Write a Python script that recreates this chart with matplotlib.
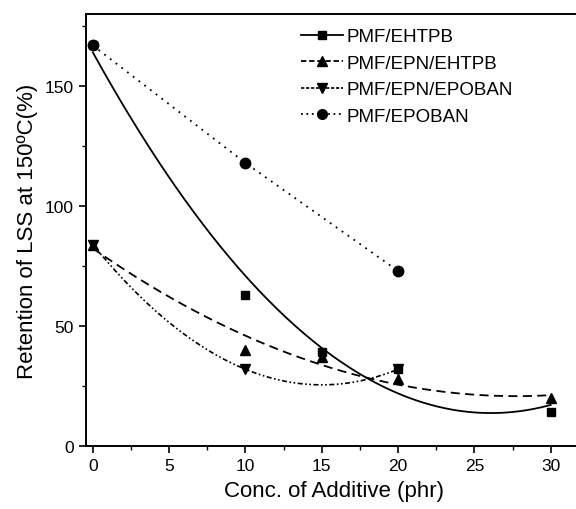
import numpy as np
import matplotlib
matplotlib.use("Agg")
import matplotlib.pyplot as plt
from matplotlib.lines import Line2D

plt.rcParams['font.family'] = ['Liberation Sans', 'DejaVu Sans']

# Retention of lap shear strength at 150 °C vs additive concentration
x_ehtpb = [0, 10, 15, 20, 30]
y_ehtpb = [167, 63, 39, 32, 14]

x_epn_ehtpb = [0, 10, 15, 20, 30]
y_epn_ehtpb = [84, 40, 37, 28, 20]

x_epn_epoban = [0, 10, 20]
y_epn_epoban = [84, 32, 32]

x_epoban = [0, 10, 20]
y_epoban = [167, 118, 73]

labels = ["PMF/EHTPB", "PMF/EPN/EHTPB", "PMF/EPN/EPOBAN", "PMF/EPOBAN"]

fig = plt.figure(figsize=(5.76, 5.10), dpi=100)
ax = fig.add_axes([0.149, 0.1235, 0.86, 0.8465])

def quad_fit(xs, ys):
    c = np.polyfit(xs, ys, 2)
    xx = np.linspace(min(xs), max(xs), 200)
    return xx, np.polyval(c, xx)

ms = 6
# Fitted trend curves
xx, yy = quad_fit(x_ehtpb, y_ehtpb)
ax.plot(xx, yy, color='black', lw=1.3, ls='-')
xx, yy = quad_fit(x_epn_ehtpb, y_epn_ehtpb)
ax.plot(xx, yy, color='black', lw=1.3, ls=(0, (5, 3)))
xx, yy = quad_fit(x_epn_epoban, y_epn_epoban)
ax.plot(xx, yy, color='black', lw=1.2, ls=(0, (3, 1.5, 1, 1.5, 1, 1.5)))
ax.plot(x_epoban, y_epoban, color='black', lw=1.3, ls=(0, (1, 3)))

# Measured points
ax.plot(x_ehtpb, y_ehtpb, 's', color='black', ms=ms, ls='none')
ax.plot(x_epn_ehtpb, y_epn_ehtpb, '^', color='black', ms=ms + 1, ls='none')
ax.plot(x_epn_epoban, y_epn_epoban, 'v', color='black', ms=ms + 1, ls='none')
ax.plot(x_epoban, y_epoban, 'o', color='black', ms=ms + 1.5, ls='none')

# Legend handles combining line style and marker
handles = [
    Line2D([], [], color='black', lw=1.3, ls='-', marker='s', ms=ms),
    Line2D([], [], color='black', lw=1.3, ls=(0, (3, 1.5)), marker='^', ms=ms + 1),
    Line2D([], [], color='black', lw=1.2, ls=(0, (2, 1)), marker='v', ms=ms + 1),
    Line2D([], [], color='black', lw=1.3, ls=(0, (1, 2)), marker='o', ms=ms + 1),
]
ax.legend(handles, labels, loc='upper left', bbox_to_anchor=(0.42, 0.985),
          frameon=False, fontsize=13.5, handlelength=2.2, handletextpad=0.2,
          labelspacing=0.5, borderaxespad=0.0)

ax.set_xlim(-0.46, 32)
ax.set_ylim(0, 180)
ax.set_xticks([0, 5, 10, 15, 20, 25, 30])
ax.set_xticks(np.arange(2.5, 32, 5), minor=True)
ax.set_yticks([0, 50, 100, 150])
ax.set_yticks([25, 75, 125, 175], minor=True)
ax.tick_params(which='major', direction='out', length=5, width=1.2, labelsize=12.5)
ax.tick_params(which='minor', direction='out', length=3, width=1.0)
for s in ax.spines.values():
    s.set_linewidth(1.4)
ax.spines['right'].set_visible(False)

ax.set_xlabel("Conc. of Additive (phr)", fontsize=16, labelpad=5)
ax.set_ylabel("Retention of LSS at 150\u00baC(%)", fontsize=16, labelpad=5)

fig.savefig("out.png", dpi=100)
